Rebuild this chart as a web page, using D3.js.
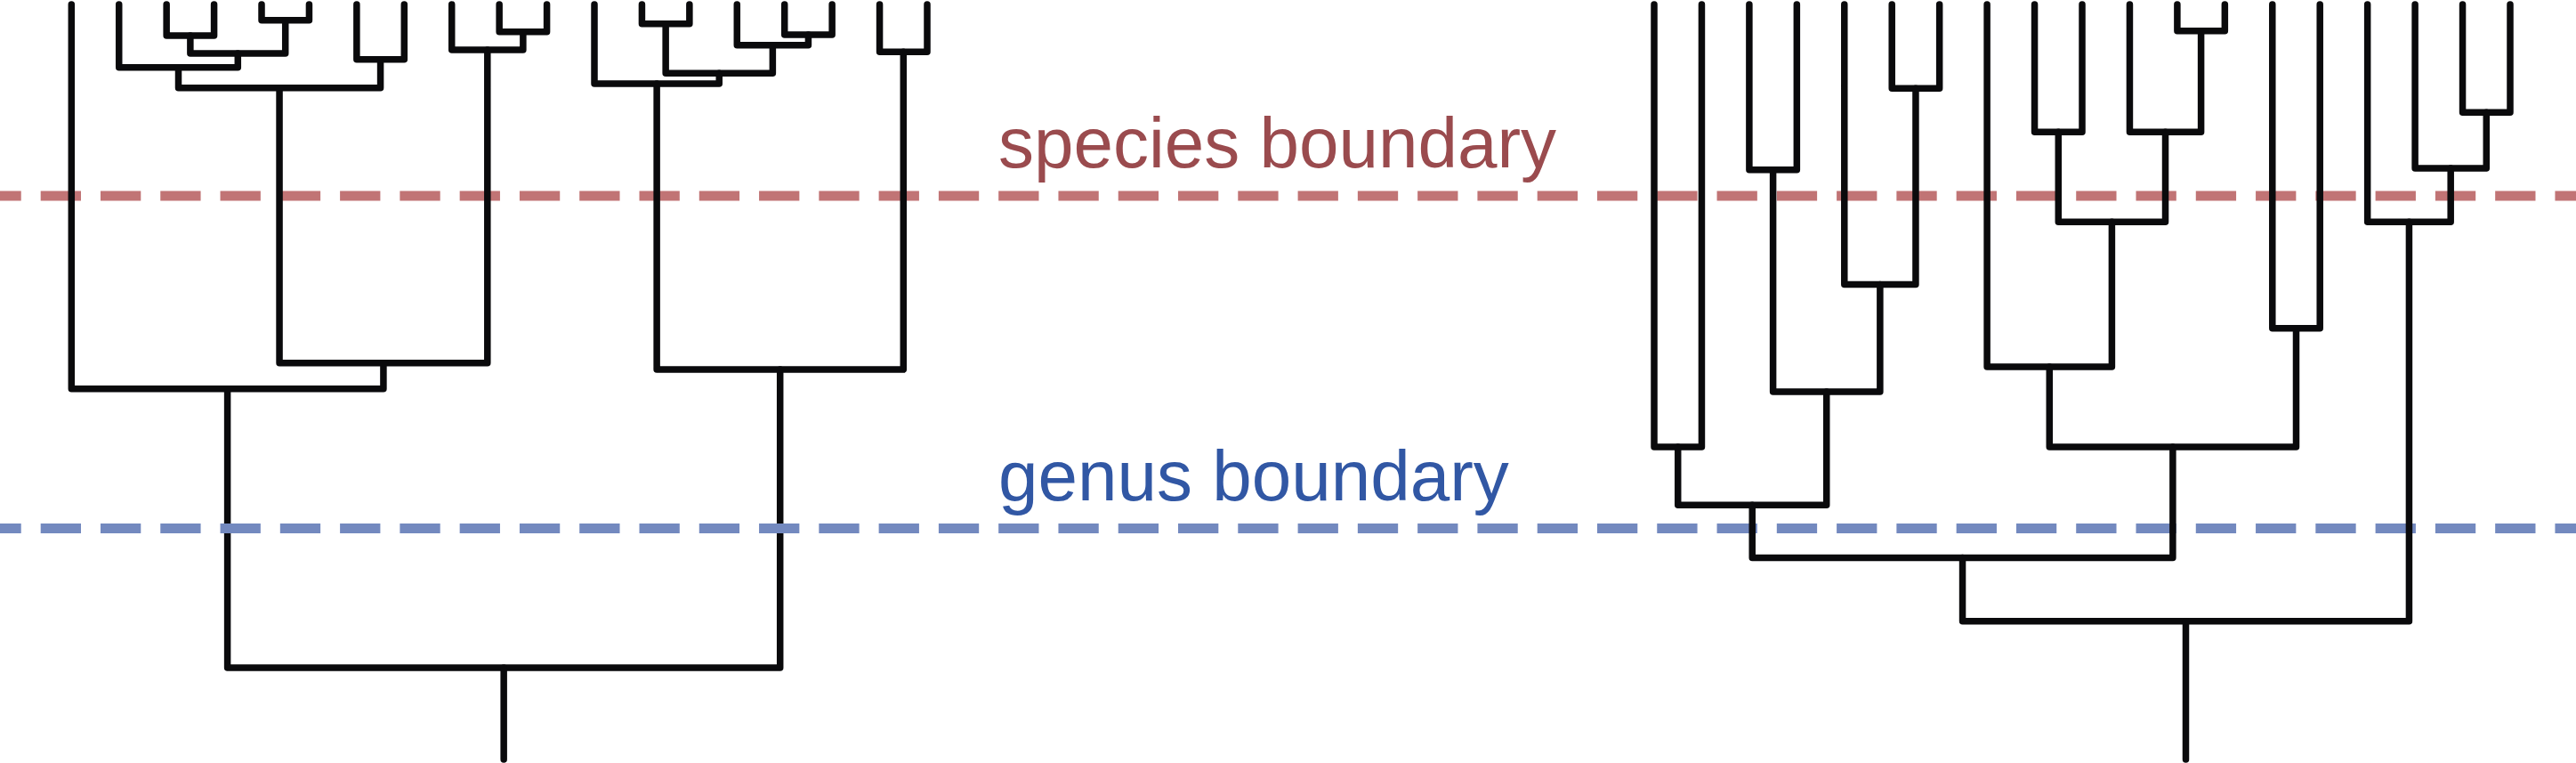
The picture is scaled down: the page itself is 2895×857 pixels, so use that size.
<!DOCTYPE html>
<html>
<head>
<meta charset="utf-8">
<script src="https://cdn.jsdelivr.net/npm/d3@7"></script>
<style>
  html, body { margin: 0; padding: 0; background: #fff; }
  svg { display: block; }
</style>
</head>
<body>
<div id="chart"></div>
<script>
// trees as nested arrays: [height, child, child]; strings are leaves (height 0)
const leftTree = [87.85,
  [50.9, 'a1',
    [47.5,
      [11.05,
        [8.34, 'a2', [6.49, [4.13, 'a3', 'a4'], [2.09, 'a5', 'a6']]],
        [7.28, 'a7', 'a8']],
      [6.01, 'a9', [3.62, 'a10', 'a11']]]],
  [48.35,
    [10.5, 'a12', [9.12, [2.56, 'a13', 'a14'], [5.39, 'a15', [4.01, 'a16', 'a17']]]],
    [6.29, 'a18', 'a19']]];

const rightTree = [81.7,
  [73.3,
    [66.3,
      [58.6, 'b1', 'b2'],
      [51.3, [21.9, 'b3', 'b4'], [37.1, 'b5', [11.1, 'b6', 'b7']]]],
    [58.6,
      [48.0, 'b8', [28.8, [16.9, 'b9', 'b10'], [16.9, 'b11', [3.5, 'b12', 'b13']]]],
      [42.9, 'b14', 'b15']]],
  [28.8, 'b16', [21.7, 'b17', [14.3, 'b18', 'b19']]]];

const boundaryLabels = ['species boundary', 'genus boundary'];
const boundaryHeights = [25.35, 69.4];
const stemEnd = 100;

const width = 2895, height = 857;

const svg = d3.select('#chart')
  .append('svg')
  .attr('width', width)
  .attr('height', height)
  .attr('viewBox', `0 0 ${width} ${height}`);

// height (distance from the leaves) -> pixels
const yScale = d3.scaleLinear().domain([0, stemEnd]).range([5, 853]);

const boundaryLine = (h, color) => {
  svg.append('line')
    .attr('x1', 0)
    .attr('x2', width)
    .attr('y1', yScale(h))
    .attr('y2', yScale(h))
    .attr('stroke', color)
    .attr('stroke-width', 11)
    .attr('stroke-dasharray', '45.3 21.98')
    .attr('stroke-dashoffset', 21.58);
};

const drawTree = (data, xRange) => {
  const root = d3.hierarchy(data, d => (Array.isArray(d) ? d.slice(1) : null));
  d3.cluster().separation(() => 1).size([1, 1])(root);

  // first leaf -> xRange[0], last leaf -> xRange[1]
  const xScale = d3.scaleLinear()
    .domain(d3.extent(root.leaves(), n => n.x))
    .range(xRange);
  root.each(n => {
    n.px = xScale(n.x);
    n.py = yScale(Array.isArray(n.data) ? n.data[0] : 0);
  });

  const g = svg.append('g')
    .attr('fill', 'none')
    .attr('stroke', '#0a0a0c')
    .attr('stroke-width', 7.5)
    .attr('stroke-linecap', 'round')
    .attr('stroke-linejoin', 'round');

  g.selectAll('path.node')
    .data(root.descendants().filter(n => n.children))
    .enter()
    .append('path')
    .attr('class', 'node')
    .attr('d', n => {
      const [a, b] = n.children;
      return `M${a.px},${a.py}V${n.py}H${b.px}V${b.py}`;
    });

  // root stem
  g.append('path')
    .attr('d', `M${root.px},${root.py}V${yScale(stemEnd)}`);
};

boundaryLine(boundaryHeights[0], '#c17475');
drawTree(leftTree, [80.3, 1042]);
boundaryLine(boundaryHeights[1], '#7389bf');
drawTree(rightTree, [1859, 2821]);

svg.append('g')
  .selectAll('text')
  .data(boundaryLabels)
  .enter()
  .append('text')
  .text(d => d)
  .attr('x', 1122)
  .attr('y', (d, i) => yScale(boundaryHeights[i]) - 31.5)
  .attr('fill', (d, i) => (i === 0 ? '#9a4b4e' : '#3157a4'))
  .attr('font-family', '"Liberation Sans", Arial, Helvetica, sans-serif')
  .attr('font-size', 80);
</script>
</body>
</html>
